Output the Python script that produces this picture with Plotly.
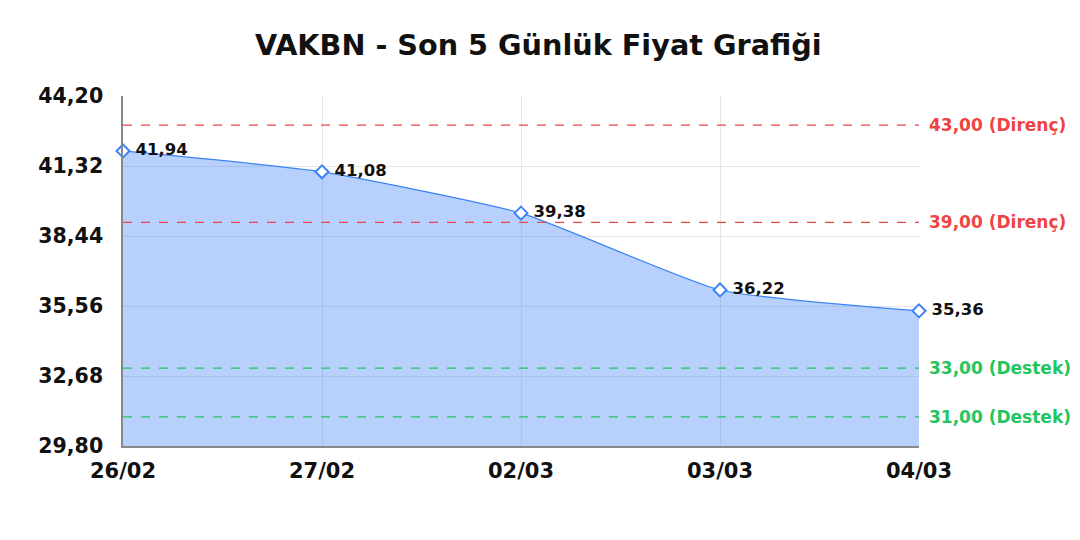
import plotly.graph_objects as go

dates = ['26/02', '27/02', '02/03', '03/03', '04/03']
prices = [41.94, 41.08, 39.38, 36.22, 35.36]
price_labels = ['41,94', '41,08', '39,38', '36,22', '35,36']

resistance = [43.00, 39.00]
support = [33.00, 31.00]

y_ticks = [29.80, 32.68, 35.56, 38.44, 41.32, 44.20]
y_tick_labels = ['29,80', '32,68', '35,56', '38,44', '41,32', '44,20']

font = 'DejaVu Sans'
blue = '#3b82f6'
red = '#ef4444'
green = '#22c55e'

fig = go.Figure()
fig.add_trace(go.Scatter(
    x=dates, y=prices, mode='lines+markers+text',
    line=dict(color=blue, width=1.2, shape='spline', smoothing=0.5),
    fill='tozeroy', fillcolor='rgba(59,130,246,0.37)',
    marker=dict(symbol='diamond', size=10, color='white', line=dict(color=blue, width=2)),
    text=['\u00a0<b>' + t + '</b>' for t in price_labels], textposition='middle right',
    textfont=dict(family=font, size=16.5, color='#111111'),
    cliponaxis=False, showlegend=False, hoverinfo='skip'))

for v in resistance:
    fig.add_hline(y=v, line=dict(color=red, width=1.3, dash='dash'))
    fig.add_annotation(x=1, xref='paper', y=v, yref='y', xanchor='left', xshift=8,
                       text='<b>' + f'{v:.2f}'.replace('.', ',') + ' (Direnç)</b>', showarrow=False,
                       font=dict(family=font, size=17, color=red))
for v in support:
    fig.add_hline(y=v, line=dict(color=green, width=1.3, dash='dash'))
    fig.add_annotation(x=1, xref='paper', y=v, yref='y', xanchor='left', xshift=8,
                       text='<b>' + f'{v:.2f}'.replace('.', ',') + ' (Destek)</b>', showarrow=False,
                       font=dict(family=font, size=17, color=green))

fig.update_layout(
    width=1080, height=540,
    margin=dict(l=115, r=169, t=88, b=102),
    paper_bgcolor='white', plot_bgcolor='white',
    title=dict(text='<b>VAKBN - Son 5 Günlük Fiyat Grafiği</b>', x=0.491, y=0.931,
               xanchor='center', yanchor='middle',
               font=dict(family=font, size=28.7, color='#111111')),
    font=dict(family=font),
)
fig.update_xaxes(range=[0, 4], showgrid=True, gridcolor='#e6e6e6', showline=True,
                 linecolor='#888888', linewidth=1.5, ticks='', ticklabelstandoff=5,
                 tickfont=dict(family=font, size=21, color='#111111'), tickprefix='<b>', ticksuffix='</b>')
fig.update_yaxes(range=[29.80, 44.20], tickvals=y_ticks, ticktext=['<b>' + t + '</b>' for t in y_tick_labels],
                 showgrid=True, gridcolor='#e6e6e6', showline=True, linecolor='#888888', linewidth=1.5,
                 zeroline=False, ticklabelstandoff=14, tickfont=dict(family=font, size=20.5, color='#111111'))

fig.write_html('out.html')
